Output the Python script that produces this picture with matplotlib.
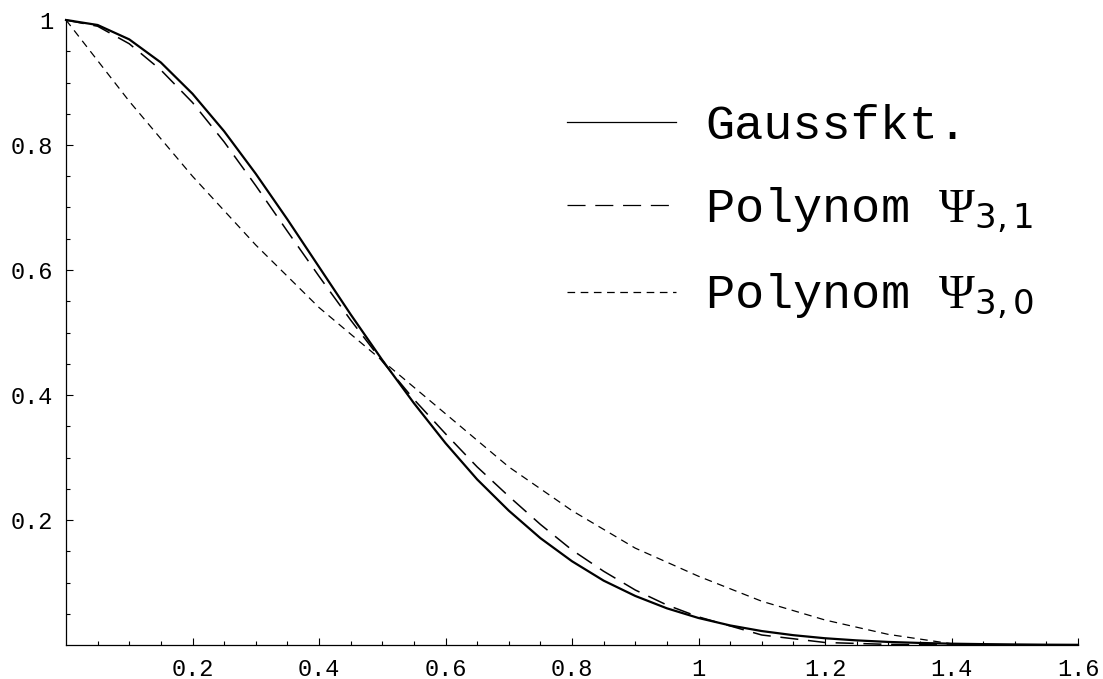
import numpy as np
import matplotlib
matplotlib.use("Agg")
import matplotlib.pyplot as plt
from matplotlib.ticker import FixedLocator

plt.rcParams['font.family'] = ['Liberation Mono', 'DejaVu Sans']
plt.rcParams['mathtext.fontset'] = 'custom'
plt.rcParams['mathtext.rm'] = 'Liberation Serif'
plt.rcParams['mathtext.it'] = 'Liberation Serif:italic'
plt.rcParams['mathtext.sf'] = 'DejaVu Sans'
plt.rcParams['lines.scale_dashes'] = False

# -----------------------
# data
# -----------------------
x_gauss = [0.0, 0.05, 0.1, 0.15, 0.2, 0.25, 0.3, 0.35, 0.4, 0.45, 0.5, 0.55,
           0.6, 0.65, 0.7, 0.75, 0.8, 0.85, 0.9, 0.95, 1.0, 1.05, 1.1, 1.15,
           1.2, 1.25, 1.3, 1.35, 1.4, 1.45, 1.5, 1.55, 1.6]
y_gauss = [1.0, 0.992, 0.969, 0.932, 0.882, 0.822, 0.754, 0.681, 0.605, 0.529,
           0.456, 0.387, 0.323, 0.265, 0.215, 0.171, 0.134, 0.103, 0.0785,
           0.0587, 0.0432, 0.0313, 0.0223, 0.0157, 0.0108, 0.0074, 0.0049,
           0.0033, 0.0021, 0.0014, 0.0009, 0.0005, 0.0003]

x_psi31 = [0.0, 0.05, 0.1, 0.15, 0.2, 0.25, 0.3, 0.35, 0.4, 0.45, 0.5, 0.55,
           0.6, 0.65, 0.7, 0.75, 0.8, 0.85, 0.9, 0.95, 1.0, 1.1, 1.2, 1.3,
           1.4, 1.5, 1.6]
y_psi31 = [1.0, 0.99, 0.962, 0.92, 0.868, 0.805, 0.735, 0.662, 0.59, 0.52,
           0.454, 0.393, 0.338, 0.285, 0.238, 0.193, 0.152, 0.118, 0.088,
           0.064, 0.045, 0.016, 0.004, 0.001, 0.0, 0.0, 0.0]

x_psi30 = [0.0, 0.1, 0.2, 0.3, 0.4, 0.5, 0.6, 0.7, 0.8, 0.9, 1.0, 1.1, 1.2,
           1.3, 1.4, 1.45, 1.5, 1.6]
y_psi30 = [1.0, 0.87, 0.75, 0.64, 0.54, 0.455, 0.37, 0.285, 0.215, 0.155,
           0.11, 0.07, 0.04, 0.017, 0.002, 0.0, 0.0, 0.0]

labels = ['Gaussfkt.', r'Polynom $\mathrm{\Psi}_{\mathsf{3,1}}$',
          r'Polynom $\mathrm{\Psi}_{\mathsf{3,0}}$']

x_major = [0.2, 0.4, 0.6, 0.8, 1.0, 1.2, 1.4, 1.6]
x_major_labels = ['0.2', '0.4', '0.6', '0.8', '1', '1.2', '1.4', '1.6']
y_major = [0.2, 0.4, 0.6, 0.8, 1.0]
y_major_labels = ['0.2', '0.4', '0.6', '0.8', '1']


def main():
    fig = plt.figure(figsize=(11.03, 6.79), dpi=100)
    ax = fig.add_axes([66 / 1103, 34 / 679, 1012 / 1103, 625 / 679])

    ax.plot(x_gauss, y_gauss, color='black', lw=1.6, clip_on=False, label=labels[0])
    ax.plot(x_psi31, y_psi31, color='black', lw=1.1, dashes=(13, 7),
            clip_on=False, label=labels[1])
    ax.plot(x_psi30, y_psi30, color='black', lw=0.9, dashes=(5.5, 4),
            clip_on=False, label=labels[2])

    ax.set_xlim(0, 1.6)
    ax.set_ylim(0, 1)

    for s in ['top', 'right']:
        ax.spines[s].set_visible(False)
    for s in ['left', 'bottom']:
        ax.spines[s].set_linewidth(0.9)

    ax.set_xticks(x_major)
    ax.set_xticklabels(x_major_labels)
    ax.set_yticks(y_major)
    ax.set_yticklabels(y_major_labels)
    ax.xaxis.set_minor_locator(FixedLocator([i * 0.05 for i in range(1, 32) if i % 4]))
    ax.yaxis.set_minor_locator(FixedLocator([i * 0.05 for i in range(1, 20) if i % 4]))
    ax.tick_params(which='both', direction='in', width=0.8, labelsize=17)
    ax.tick_params(which='major', length=5)
    ax.tick_params(which='minor', length=3.2)
    ax.tick_params(axis='x', pad=9)
    ax.tick_params(axis='y', pad=9)

    leg = ax.legend(loc='upper left', bbox_to_anchor=(0.495, 0.866),
                    frameon=False, fontsize=35, handlelength=2.25,
                    handletextpad=0.6, labelspacing=0.76, borderpad=0,
                    borderaxespad=0)
    for h in leg.get_lines():
        h.set_linewidth(0.9)

    fig.savefig('out.png', dpi=100)
    plt.close(fig)


if __name__ == "__main__":
    main()
